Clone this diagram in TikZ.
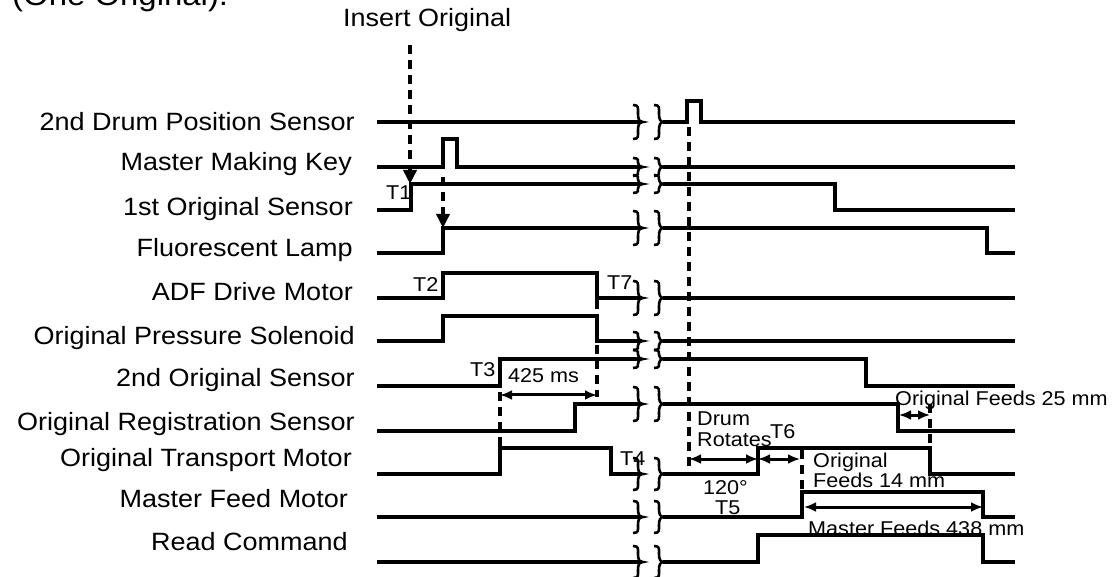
\documentclass[tikz,border=0pt]{standalone}
\usepackage{fontspec}
\setmainfont{Liberation Sans}[FakeStretch=1.08]
\usetikzlibrary{arrows.meta}

\begin{document}
\begin{tikzpicture}[x=1pt,y=-1pt,
  sig/.style={line width=3.2pt,line join=miter},
  dsh/.style={line width=4pt,dash pattern=on 9pt off 6pt},
  brk/.style={line width=2.6pt},
  dim/.style={line width=3pt,{Latex[length=12pt,width=10pt]}-{Latex[length=12pt,width=10pt]}},
  tip/.style={-{Triangle[width=13pt,length=14pt]}},
  lbl/.style={font=\fontsize{25}{28}\selectfont,anchor=base east,inner sep=0pt},
  sml/.style={font=\fontsize{20}{21}\selectfont,anchor=base west,inner sep=0pt}]
\useasboundingbox (0,0) rectangle (1117,577);
% title, cut by the top edge
\node[font=\fontsize{30.5}{33}\selectfont,anchor=base west,inner sep=0pt] (title) at (12,6) {(One Original).};
\node[font=\fontsize{25}{28}\selectfont,anchor=base west,inner sep=0pt] (insert) at (343,27) {Insert Original};
% signal names
\node[lbl] (ldrum) at (355,131) {2nd Drum Position Sensor};
\node[lbl] (lkey) at (352,171) {Master Making Key};
\node[lbl] (lfirst) at (353,216) {1st Original Sensor};
\node[lbl] (llamp) at (353,257) {Fluorescent Lamp};
\node[lbl] (ladf) at (353,301) {ADF Drive Motor};
\node[lbl] (lsol) at (355,345) {Original Pressure Solenoid};
\node[lbl] (lsecond) at (355,387) {2nd Original Sensor};
\node[lbl] (lreg) at (355,430) {Original Registration Sensor};
\node[lbl] (lotm) at (352,466) {Original Transport Motor};
\node[lbl] (lmfm) at (348,507) {Master Feed Motor};
\node[lbl] (lread) at (348,550) {Read Command};
% 2nd Drum Position Sensor
\draw[sig] (377,122) -- (642,122);
\draw[sig] (663,122) -- (687,122) -- (687,101) -- (701,101) -- (701,122) -- (1015,122);
% Master Making Key
\draw[sig] (377,167) -- (443,167) -- (443,139) -- (457,139) -- (457,167) -- (642,167);
\draw[sig] (663,167) -- (1015,167);
% 1st Original Sensor
\draw[sig] (377,210) -- (411,210) -- (411,184) -- (642,184);
\draw[sig] (663,184) -- (835,184) -- (835,210) -- (1015,210);
% Fluorescent Lamp
\draw[sig] (377,253) -- (443,253) -- (443,228) -- (642,228);
\draw[sig] (663,228) -- (987,228) -- (987,253) -- (1015,253);
% ADF Drive Motor
\draw[sig] (377,298) -- (443,298) -- (443,273) -- (597,273) -- (597,298) -- (642,298);
\draw[sig] (663,298) -- (1015,298);
% Original Pressure Solenoid
\draw[sig] (377,341) -- (443,341) -- (443,316) -- (597,316) -- (597,341) -- (642,341);
\draw[sig] (663,341) -- (1015,341);
% 2nd Original Sensor
\draw[sig] (377,386) -- (500,386) -- (500,359) -- (642,359);
\draw[sig] (663,359) -- (866,359) -- (866,386) -- (1015,386);
% Original Registration Sensor
\draw[sig] (377,431) -- (575,431) -- (575,404) -- (642,404);
\draw[sig] (663,404) -- (898,404) -- (898,431) -- (1015,431);
% Original Transport Motor
\draw[sig] (377,474) -- (500,474) -- (500,448) -- (611,448) -- (611,474) -- (642,474);
\draw[sig] (663,474) -- (758,474) -- (758,448) -- (930,448) -- (930,474) -- (1015,474);
% Master Feed Motor
\draw[sig] (377,517) -- (642,517);
\draw[sig] (663,517) -- (802,517) -- (802,492) -- (983,492) -- (983,517) -- (1015,517);
% Read Command
\draw[sig] (377,562) -- (642,562);
\draw[sig] (663,562) -- (758,562) -- (758,535) -- (983,535) -- (983,562) -- (1015,562);
% time breaks
\foreach \yy/\hh in {122/17,167/9,184/9,228/17,298/17,341/9,359/9,404/17,474/16,517/16,562/16}
  \foreach \xx in {638,659}
    \draw[brk] (\xx-5,\yy-\hh) .. controls (\xx+1,\yy-\hh) and (\xx,\yy-\hh+3) .. (\xx,\yy-\hh/2)
      .. controls (\xx,\yy-3) and (\xx+1,\yy) .. (\xx+5,\yy)
      .. controls (\xx+1,\yy) and (\xx,\yy+3) .. (\xx,\yy+\hh/2)
      .. controls (\xx,\yy+\hh-3) and (\xx+1,\yy+\hh) .. (\xx-5,\yy+\hh);
% timing marks
\coordinate (insTop) at (410,45);
\coordinate (firstUp) at (410,184);
\coordinate (keyPulse) at (443,177);
\coordinate (lampUp) at (443,228);
\coordinate (adfDown) at (597,300);
\coordinate (msEnd) at (597,397);
\coordinate (secondUp) at (500,362);
\coordinate (otmUp) at (500,448);
\coordinate (drumPulse) at (689,127);
\coordinate (drumLow) at (689,474);
\coordinate (mfmTop) at (802,450);
\coordinate (mfmUp) at (802,492);
\coordinate (regHigh) at (930,404);
\coordinate (otmDown) at (930,448);
\draw[dsh,tip] (insTop) -- (firstUp);
\draw[dsh,tip] (keyPulse) -- (lampUp);
\draw[dsh] (adfDown) -- (msEnd);
\draw[dsh] (secondUp) -- (otmUp);
\draw[dsh] (drumPulse) -- (drumLow);
\draw[dsh] (mfmTop) -- (mfmUp);
\draw[dsh] (regHigh) -- (otmDown);
% intervals
\coordinate (a1) at (500,395);
\coordinate (a2) at (597,395);
\coordinate (b1) at (689,459);
\coordinate (b2) at (758,459);
\coordinate (b3) at (800,459);
\coordinate (c1) at (804,507);
\coordinate (c2) at (983,507);
\coordinate (d1) at (899,415);
\coordinate (d2) at (930,415);
\draw[dim] (a1) -- (a2);
\draw[dim] (b1) -- (b2);
\draw[dim] (b2) -- (b3);
\draw[dim] (c1) -- (c2);
\draw[dim] (d1) -- (d2);
% labels
\node[sml] (t1) at (386,200) {T1};
\node[sml] (t2) at (413,292) {T2};
\node[sml] (t7) at (607,290) {T7};
\node[sml] (t3) at (470,377) {T3};
\node[sml] (ms425) at (508,383) {425 ms};
\node[sml] (t4) at (620,465) {T4};
\node[sml] (drum) at (697,425) {Drum};
\node[sml] (rotates) at (697,446) {Rotates};
\node[sml] (t6) at (770,438) {T6};
\node[sml] (deg) at (703,494) {120°};
\node[sml] (t5) at (715,514) {T5};
\node[sml] (orig14) at (813,467) {Original};
\node[sml] (feeds14) at (813,487) {Feeds 14 mm};
\node[sml] (mf438) at (808,535) {Master Feeds 438 mm};
\node[sml] (of25) at (895,406) {Original Feeds 25 mm};
\end{tikzpicture}
\end{document}
